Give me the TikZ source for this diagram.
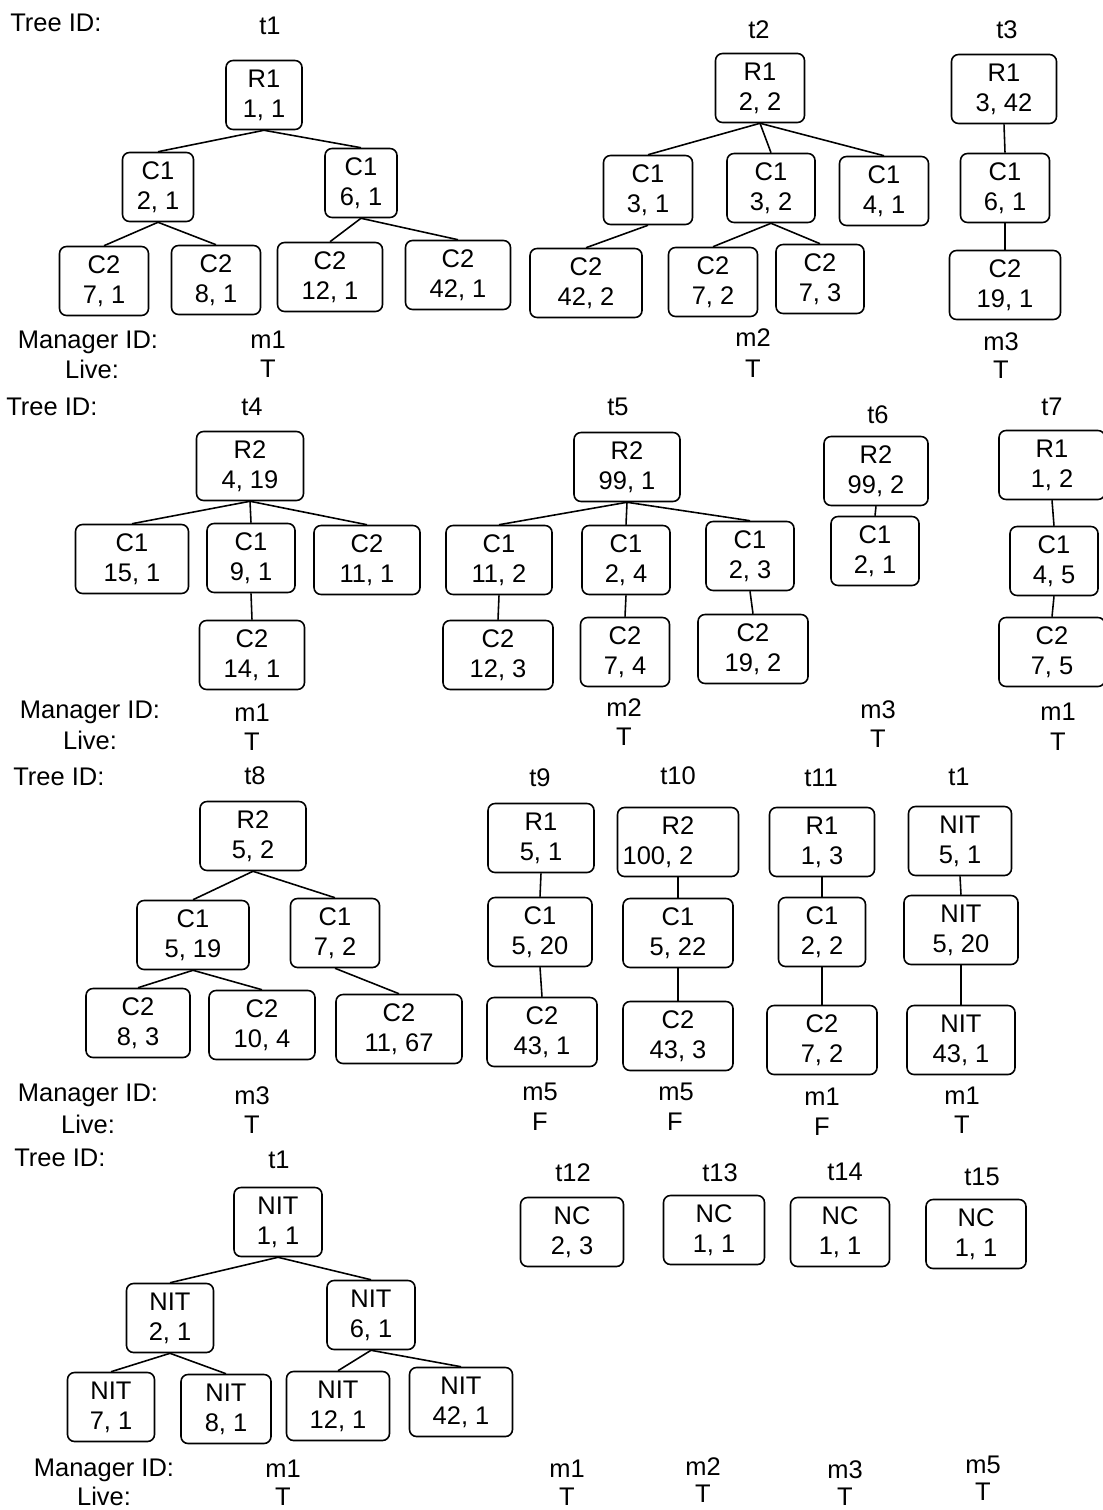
\documentclass[tikz,border=0pt]{standalone}
\usepackage{fontspec}
\setmainfont{Liberation Sans}

\tikzset{
	tbox/.style={draw, rounded corners=4pt, line width=0.9pt, align=center, inner sep=0pt,
		minimum height=1.38cm, font=\fontsize{14.5}{17}\selectfont},
	bw/.style={minimum width=#1*0.02cm},
	lbl/.style={inner sep=0pt, text depth=0pt, font=\fontsize{14.5}{17}\selectfont},
	link/.style={line width=0.9pt}
}

\begin{document}
\begin{tikzpicture}[x=0.02cm,y=-0.02cm]
	\useasboundingbox (0,0) rectangle (1102,1510);

	% row 1
	\node[lbl,anchor=west]	(id1)	at (10,23)		{Tree ID:};
	\node[lbl]				(mgr1)	at (88,340)		{Manager ID:};
	\node[lbl]				(live1)	at (92,369)		{Live:};

	\node[lbl]				(t1id)	at (270,26)		{t1};
	\node[tbox,bw=76]		(t1r)	at (264,95)		{R1\\1, 1};
	\node[tbox,bw=71]		(t1a)	at (158,187)	{C1\\2, 1};
	\node[tbox,bw=72]		(t1b)	at (361,183)	{C1\\6, 1};
	\node[tbox,bw=89]		(t1aa)	at (104,281)	{C2\\7, 1};
	\node[tbox,bw=89]		(t1ab)	at (216,280)	{C2\\8, 1};
	\node[tbox,bw=105]		(t1ba)	at (330,277)	{C2\\12, 1};
	\node[tbox,bw=105]		(t1bb)	at (458,275)	{C2\\42, 1};
	\node[lbl]				(t1m)	at (268,340)	{m1};
	\node[lbl]				(t1l)	at (268,369)	{T};

	\node[lbl]				(t2id)	at (759,30)		{t2};
	\node[tbox,bw=89]		(t2r)	at (760,88)		{R1\\2, 2};
	\node[tbox,bw=89]		(t2a)	at (648,190)	{C1\\3, 1};
	\node[tbox,bw=88]		(t2b)	at (771,188)	{C1\\3, 2};
	\node[tbox,bw=89]		(t2c)	at (884,191)	{C1\\4, 1};
	\node[tbox,bw=112]		(t2aa)	at (586,283)	{C2\\42, 2};
	\node[tbox,bw=89]		(t2ba)	at (713,282)	{C2\\7, 2};
	\node[tbox,bw=88]		(t2bb)	at (820,279)	{C2\\7, 3};
	\node[lbl]				(t2m)	at (753,338)	{m2};
	\node[lbl]				(t2l)	at (753,369)	{T};

	\node[lbl]				(t3id)	at (1007,30)	{t3};
	\node[tbox,bw=105]		(t3r)	at (1004,89)	{R1\\3, 42};
	\node[tbox,bw=89]		(t3a)	at (1005,188)	{C1\\6, 1};
	\node[tbox,bw=111]		(t3aa)	at (1005,285)	{C2\\19, 1};
	\node[lbl]				(t3m)	at (1001,342)	{m3};
	\node[lbl]				(t3l)	at (1001,370)	{T};

	% row 2
	\node[lbl,anchor=west]	(id2)	at (6,407)		{Tree ID:};
	\node[lbl]				(mgr2)	at (90,710)		{Manager ID:};
	\node[lbl]				(live2)	at (90,740)		{Live:};

	\node[lbl]				(t4id)	at (252,407)	{t4};
	\node[tbox,bw=107]		(t4r)	at (250,466)	{R2\\4, 19};
	\node[tbox,bw=113]		(t4a)	at (132,559)	{C1\\15, 1};
	\node[tbox,bw=88]		(t4b)	at (251,558)	{C1\\9, 1};
	\node[tbox,bw=106]		(t4c)	at (367,560)	{C2\\11, 1};
	\node[tbox,bw=105]		(t4ba)	at (252,655)	{C2\\14, 1};
	\node[lbl]				(t4m)	at (252,713)	{m1};
	\node[lbl]				(t4l)	at (252,742)	{T};

	\node[lbl]				(t5id)	at (618,407)	{t5};
	\node[tbox,bw=106]		(t5r)	at (627,467)	{R2\\99, 1};
	\node[tbox,bw=106]		(t5a)	at (499,560)	{C1\\11, 2};
	\node[tbox,bw=88]		(t5b)	at (626,560)	{C1\\2, 4};
	\node[tbox,bw=88]		(t5c)	at (750,556)	{C1\\2, 3};
	\node[tbox,bw=110]		(t5aa)	at (498,655)	{C2\\12, 3};
	\node[tbox,bw=89]		(t5ba)	at (625,652)	{C2\\7, 4};
	\node[tbox,bw=110]		(t5ca)	at (753,649)	{C2\\19, 2};
	\node[lbl]				(t5m)	at (624,708)	{m2};
	\node[lbl]				(t5l)	at (624,737)	{T};

	\node[lbl]				(t6id)	at (878,415)	{t6};
	\node[tbox,bw=104]		(t6r)	at (876,471)	{R2\\99, 2};
	\node[tbox,bw=88]		(t6a)	at (875,551)	{C1\\2, 1};
	\node[lbl]				(t6m)	at (878,710)	{m3};
	\node[lbl]				(t6l)	at (878,739)	{T};

	\node[lbl]				(t7id)	at (1052,407)	{t7};
	\node[tbox,bw=106]		(t7r)	at (1052,465)	{R1\\1, 2};
	\node[tbox,bw=88]		(t7a)	at (1054,561)	{C1\\4, 5};
	\node[tbox,bw=106]		(t7aa)	at (1052,652)	{C2\\7, 5};
	\node[lbl]				(t7m)	at (1058,712)	{m1};
	\node[lbl]				(t7l)	at (1058,742)	{T};

	% row 3
	\node[lbl,anchor=west]	(id3)	at (13,777)		{Tree ID:};
	\node[lbl]				(mgr3)	at (88,1093)	{Manager ID:};
	\node[lbl]				(live3)	at (88,1124)	{Live:};

	\node[lbl]				(t8id)	at (255,776)	{t8};
	\node[tbox,bw=106]		(t8r)	at (253,836)	{R2\\5, 2};
	\node[tbox,bw=112]		(t8a)	at (193,935)	{C1\\5, 19};
	\node[tbox,bw=89]		(t8b)	at (335,933)	{C1\\7, 2};
	\node[tbox,bw=104]		(t8aa)	at (138,1023)	{C2\\8, 3};
	\node[tbox,bw=106]		(t8ab)	at (262,1025)	{C2\\10, 4};
	\node[tbox,bw=126]		(t8ba)	at (399,1029)	{C2\\11, 67};
	\node[lbl]				(t8m)	at (252,1096)	{m3};
	\node[lbl]				(t8l)	at (252,1125)	{T};

	\node[lbl]				(t9id)	at (540,778)	{t9};
	\node[tbox,bw=106]		(t9r)	at (541,838)	{R1\\5, 1};
	\node[tbox,bw=104]		(t9a)	at (540,932)	{C1\\5, 20};
	\node[tbox,bw=110]		(t9aa)	at (542,1032)	{C2\\43, 1};
	\node[lbl]				(t9m)	at (540,1092)	{m5};
	\node[lbl]				(t9l)	at (540,1122)	{F};

	\node[lbl]				(t10id)	at (678,776)	{t10};
	\node[tbox,bw=121]		(t10r)	at (678,842)	{R2\\100, 2\hspace*{0.8cm}};
	\node[tbox,bw=110]		(t10a)	at (678,933)	{C1\\5, 22};
	\node[tbox,bw=110]		(t10aa)	at (678,1036)	{C2\\43, 3};
	\node[lbl]				(t10m)	at (676,1092)	{m5};
	\node[lbl]				(t10l)	at (675,1122)	{F};

	\node[lbl]				(t11id)	at (821,778)	{t11};
	\node[tbox,bw=105]		(t11r)	at (822,842)	{R1\\1, 3};
	\node[tbox,bw=87]		(t11a)	at (822,932)	{C1\\2, 2};
	\node[tbox,bw=110]		(t11aa)	at (822,1040)	{C2\\7, 2};
	\node[lbl]				(t11m)	at (822,1097)	{m1};
	\node[lbl]				(t11l)	at (822,1127)	{F};

	\node[lbl]				(t1nid)	at (959,777)	{t1};
	\node[tbox,bw=103]		(t1nr)	at (960,841)	{NIT\\5, 1};
	\node[tbox,bw=114]		(t1na)	at (961,930)	{NIT\\5, 20};
	\node[tbox,bw=108]		(t1naa)	at (961,1040)	{NIT\\43, 1};
	\node[lbl]				(t1nm)	at (962,1096)	{m1};
	\node[lbl]				(t1nl)	at (962,1125)	{T};

	% row 4
	\node[lbl,anchor=west]	(id4)	at (14,1158)	{Tree ID:};
	\node[lbl]				(mgr4)	at (104,1468)	{Manager ID:};
	\node[lbl]				(live4)	at (104,1496)	{Live:};

	\node[lbl]				(t1xid)	at (279,1160)	{t1};
	\node[tbox,bw=88]		(t1xr)	at (278,1222)	{NIT\\1, 1};
	\node[tbox,bw=87]		(t1xa)	at (170,1318)	{NIT\\2, 1};
	\node[tbox,bw=88]		(t1xb)	at (371,1315)	{NIT\\6, 1};
	\node[tbox,bw=87]		(t1xaa)	at (111,1407)	{NIT\\7, 1};
	\node[tbox,bw=90]		(t1xab)	at (226,1409)	{NIT\\8, 1};
	\node[tbox,bw=103]		(t1xba)	at (338,1406)	{NIT\\12, 1};
	\node[tbox,bw=103]		(t1xbb)	at (461,1402)	{NIT\\42, 1};
	\node[lbl]				(t1xm)	at (283,1469)	{m1};
	\node[lbl]				(t1xl)	at (283,1497)	{T};

	\node[lbl]				(t12id)	at (573,1173)	{t12};
	\node[tbox,bw=103]		(t12r)	at (572,1232)	{NC\\2, 3};
	\node[lbl]				(t12m)	at (567,1469)	{m1};
	\node[lbl]				(t12l)	at (567,1497)	{T};

	\node[lbl]				(t13id)	at (720,1173)	{t13};
	\node[tbox,bw=101]		(t13r)	at (714,1230)	{NC\\1, 1};
	\node[lbl]				(t13m)	at (703,1467)	{m2};
	\node[lbl]				(t13l)	at (703,1494)	{T};

	\node[lbl]				(t14id)	at (845,1172)	{t14};
	\node[tbox,bw=99]		(t14r)	at (840,1232)	{NC\\1, 1};
	\node[lbl]				(t14m)	at (845,1470)	{m3};
	\node[lbl]				(t14l)	at (845,1497)	{T};

	\node[lbl]				(t15id)	at (982,1177)	{t15};
	\node[tbox,bw=100]		(t15r)	at (976,1234)	{NC\\1, 1};
	\node[lbl]				(t15m)	at (983,1465)	{m5};
	\node[lbl]				(t15l)	at (983,1492)	{T};

	% edges
	\draw[link]	(t1r.south) -- (t1a.north);
	\draw[link]	(t1r.south) -- (t1b.north);
	\draw[link]	(t1a.south) -- (t1aa.north);
	\draw[link]	(t1a.south) -- (t1ab.north);
	\draw[link]	(t1b.south) -- (t1ba.north);
	\draw[link]	(t1b.south) -- (t1bb.north);

	\draw[link]	(t2r.south) -- (t2a.north);
	\draw[link]	(t2r.south) -- (t2b.north);
	\draw[link]	(t2r.south) -- (t2c.north);
	\draw[link]	(t2a.south) -- (t2aa.north);
	\draw[link]	(t2b.south) -- (t2ba.north);
	\draw[link]	(t2b.south) -- (t2bb.north);

	\draw[link]	(t3r.south) -- (t3a.north);
	\draw[link]	(t3a.south) -- (t3aa.north);

	\draw[link]	(t4r.south) -- (t4a.north);
	\draw[link]	(t4r.south) -- (t4b.north);
	\draw[link]	(t4r.south) -- (t4c.north);
	\draw[link]	(t4b.south) -- (t4ba.north);

	\draw[link]	(t5r.south) -- (t5a.north);
	\draw[link]	(t5r.south) -- (t5b.north);
	\draw[link]	(t5r.south) -- (t5c.north);
	\draw[link]	(t5a.south) -- (t5aa.north);
	\draw[link]	(t5b.south) -- (t5ba.north);
	\draw[link]	(t5c.south) -- (t5ca.north);

	\draw[link]	(t6r.south) -- (t6a.north);

	\draw[link]	(t7r.south) -- (t7a.north);
	\draw[link]	(t7a.south) -- (t7aa.north);

	\draw[link]	(t8r.south) -- (t8a.north);
	\draw[link]	(t8r.south) -- (t8b.north);
	\draw[link]	(t8a.south) -- (t8aa.north);
	\draw[link]	(t8a.south) -- (t8ab.north);
	\draw[link]	(t8b.south) -- (t8ba.north);

	\draw[link]	(t9r.south) -- (t9a.north);
	\draw[link]	(t9a.south) -- (t9aa.north);
	\draw[link]	(t10r.south) -- (t10a.north);
	\draw[link]	(t10a.south) -- (t10aa.north);
	\draw[link]	(t11r.south) -- (t11a.north);
	\draw[link]	(t11a.south) -- (t11aa.north);
	\draw[link]	(t1nr.south) -- (t1na.north);
	\draw[link]	(t1na.south) -- (t1naa.north);

	\draw[link]	(t1xr.south) -- (t1xa.north);
	\draw[link]	(t1xr.south) -- (t1xb.north);
	\draw[link]	(t1xa.south) -- (t1xaa.north);
	\draw[link]	(t1xa.south) -- (t1xab.north);
	\draw[link]	(t1xb.south) -- (t1xba.north);
	\draw[link]	(t1xb.south) -- (t1xbb.north);
\end{tikzpicture}
\end{document}
